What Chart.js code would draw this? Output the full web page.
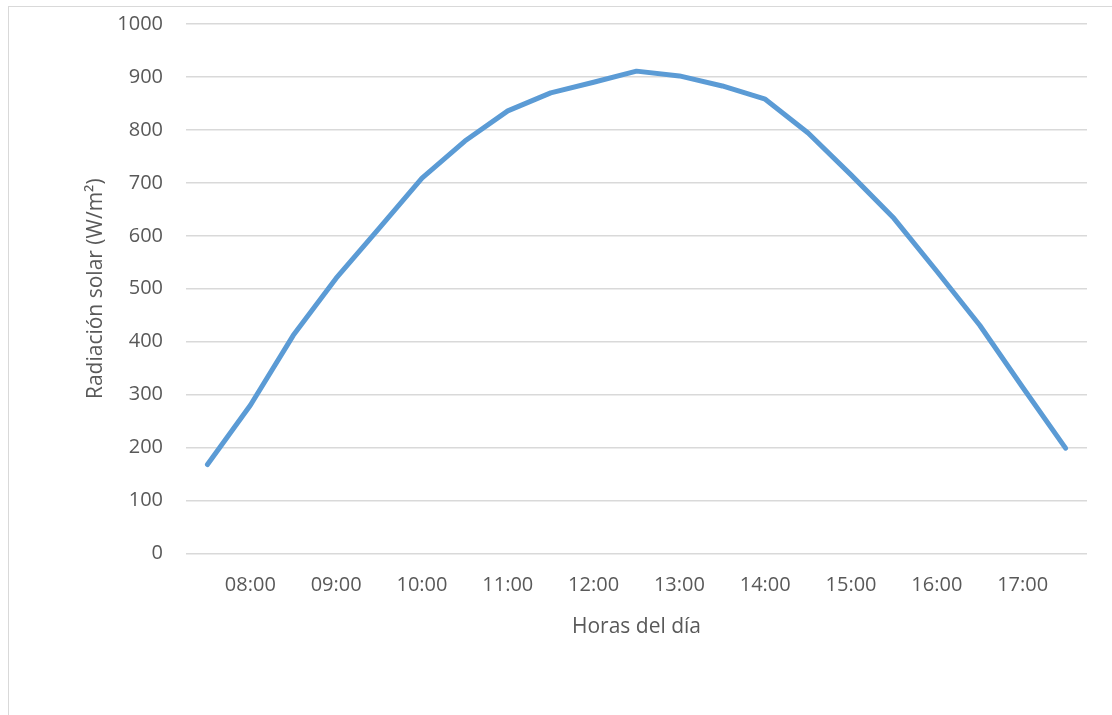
<!DOCTYPE html>
<html>
<head>
<meta charset="utf-8">
<script src="https://cdn.jsdelivr.net/npm/chart.js@4"></script>
<style>
  html, body { margin: 0; padding: 0; background: #fff; overflow: hidden; }
  #frame { position: absolute; left: 8px; top: 6px; width: 1200px; height: 800px; border: 1px solid #d9d9d9; }
  #chart { position: absolute; left: 0; top: 0; }
</style>
</head>
<body>
<div id="frame"></div>
<canvas id="chart" width="1112" height="715"></canvas>
<script>
const horas = ["07:30", "08:00", "08:30", "09:00", "09:30", "10:00", "10:30", "11:00", "11:30", "12:00",
               "12:30", "13:00", "13:30", "14:00", "14:30", "15:00", "15:30", "16:00", "16:30", "17:00", "17:30"];
const radiacion = [168, 280, 412, 520, 614, 709, 779, 836, 870, 890,
                   911, 902, 883, 858, 794, 715, 633, 533, 431, 314, 199];
const yTicks = [0, 100, 200, 300, 400, 500, 600, 700, 800, 900, 1000];

document.addEventListener("DOMContentLoaded", function () {
    const ctx = document.getElementById("chart").getContext("2d");
    const textColor = "#595959";
    const font = { family: "'Open Sans', 'Liberation Sans', sans-serif", size: 20 };
    const titleFont = { family: "'Open Sans', 'Liberation Sans', sans-serif", size: 21 };

    new Chart(ctx, {
        type: "line",
        data: {
            labels: horas,
            datasets: [{
                label: "Radiación solar",
                data: radiacion,
                borderColor: "#5b9bd5",
                borderWidth: 5,
                pointRadius: 0,
                tension: 0,
                borderCapStyle: "round",
                borderJoinStyle: "round",
                fill: false
            }]
        },
        options: {
            responsive: false,
            animation: false,
            layout: { padding: { left: 70, right: 25, top: 24, bottom: 0 } },
            plugins: { legend: { display: false }, tooltip: { enabled: false } },
            scales: {
                x: {
                    offset: true,
                    grid: { display: false },
                    border: { display: false },
                    ticks: {
                        color: textColor,
                        font: font,
                        autoSkip: false,
                        maxRotation: 0,
                        padding: 12,
                        callback: function (value, index) {
                            const l = horas[index];
                            return l.endsWith(":00") ? l : "";
                        }
                    },
                    title: {
                        display: true,
                        text: "Horas del día",
                        color: textColor,
                        font: titleFont,
                        padding: { top: 0, bottom: 75 }
                    },
                    afterFit: function (scale) { scale.height = 161.5; }
                },
                y: {
                    min: 0,
                    max: 1000,
                    afterBuildTicks: function (scale) {
                        scale.ticks = yTicks.map(v => ({ value: v }));
                    },
                    grid: {
                        color: "#d9d9d9",
                        lineWidth: 1.5,
                        drawTicks: true,
                        tickLength: 20,
                        tickColor: "rgba(0,0,0,0)"
                    },
                    border: { display: false },
                    ticks: {
                        color: textColor,
                        font: font,
                        padding: 3,
                        callback: function (value) { return String(value); }
                    },
                    title: {
                        display: true,
                        text: "Radiación solar (W/m²)",
                        color: textColor,
                        font: titleFont,
                        padding: { top: 13, bottom: 0 }
                    },
                    afterFit: function (scale) { scale.width = 116; }
                }
            }
        }
    });
});
</script>
</body>
</html>
